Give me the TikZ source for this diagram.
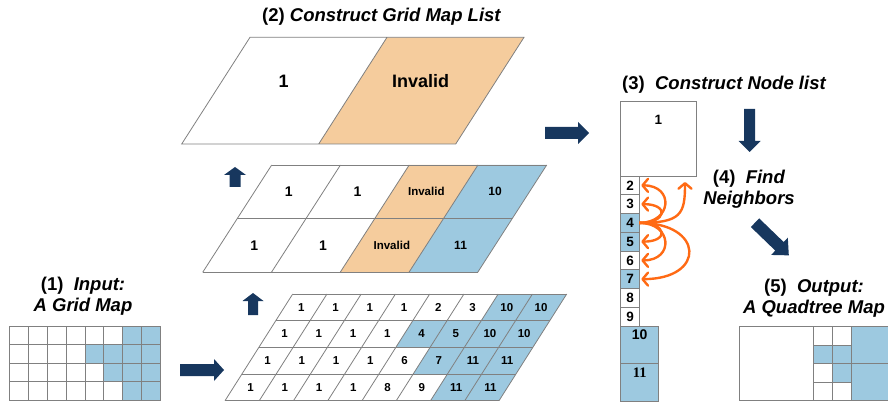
\documentclass[tikz,border=0pt]{standalone}
\usepackage{fontspec}
\setmainfont{Liberation Sans}
\newfontfamily\numserif{Liberation Serif}
\usetikzlibrary{arrows.meta}

\definecolor{cellblue}{RGB}{157,201,224}
\definecolor{cellorange}{RGB}{245,204,157}
\definecolor{linegray}{RGB}{128,128,128}
\definecolor{navyarrow}{RGB}{23,55,94}
\definecolor{linkorange}{RGB}{255,106,20}

% block arrow: #1 tail, #2 angle, #3 length, #4 shaft half width, #5 head half width, #6 head length
\newcommand\blockarrow[6]{%
  \fill[navyarrow, shift={#1}, rotate=#2]
    (0,-#4) -- ({#3-#6},-#4) -- ({#3-#6},-#5) -- (#3,0)
    -- ({#3-#6},#5) -- ({#3-#6},#4) -- (0,#4) -- cycle;}

\tikzset{
  gridline/.style={draw=linegray, line width=0.8pt},
  title/.style={font=\fontsize{18.5}{21}\selectfont\bfseries, align=center, inner sep=0pt},
  smallnum/.style={font=\fontsize{11.5}{13}\selectfont\bfseries, inner sep=0pt},
  midnum/.style={font=\fontsize{14}{16}\selectfont\bfseries, inner sep=0pt},
  midlab/.style={font=\fontsize{12}{14}\selectfont\bfseries, inner sep=0pt},
  bignum/.style={font=\fontsize{18}{20}\selectfont\bfseries, inner sep=0pt},
  listnum/.style={font=\fontsize{13.5}{15}\selectfont\bfseries, inner sep=0pt},
  listbox/.style={draw=linegray, line width=0.9pt, inner sep=0pt, outer sep=0pt, listnum},
  link/.style={draw=linkorange, line width=2.4pt, -{Straight Barb[length=5.5pt,width=13pt,round]}},
}

\begin{document}
\begin{tikzpicture}[x=1pt,y=-1pt]
\useasboundingbox (0,0) rectangle (888,403);

% step titles
\node[title] (t1) at (83,296.7) {(1)\ \ \textit{Input:}\\\textit{A Grid Map}};
\node[title] (t2) at (381.7,16.7) {(2) \textit{Construct Grid Map List}};
\node[title, anchor=west] (t3) at (622,85) {(3)\ \ \textit{Construct Node list}};
\node[title] (t4) at (749,189) {(4)\ \ \textit{Find}\\\textit{Neighbors}};
\node[title] (t5) at (814,298) {(5)\ \ \textit{Output:}\\\textit{A Quadtree Map}};

% input grid map, 8 x 4 cells
\begin{scope}[shift={(9.3pt,-326pt)}, x={(18.9pt,0pt)}, y={(0pt,-18.6pt)}]
  \foreach \c/\r in {6/0,7/0,4/1,5/1,6/1,7/1,5/2,6/2,7/2,6/3,7/3}
    \fill[cellblue] (\c,\r) rectangle ++(1,1);
  \foreach \r in {0,...,4} \draw[gridline] (0,\r) -- (8,\r);
  \foreach \c in {0,...,8} \draw[gridline] (\c,0) -- (\c,4);
\end{scope}

% level 0 of the grid map list (8 x 4)
\begin{scope}[shift={(292.7pt,-294pt)}, x={(34.25pt,0pt)}, y={(-16.92pt,-26.67pt)}]
  \fill[white] (0,0) -- (8,0) -- (8,4) -- (0,4) -- cycle;
  \foreach \c/\r in {6/0,7/0,4/1,5/1,6/1,7/1,5/2,6/2,7/2,6/3,7/3}
    \fill[cellblue] (\c,\r) -- ++(1,0) -- ++(0,1) -- ++(-1,0) -- cycle;
  \foreach \r in {0,...,4} \draw[gridline] (0,\r) -- (8,\r);
  \foreach \c in {0,...,8} \draw[gridline] (\c,0) -- (\c,4);
  \foreach \lab [count=\i from 0] in {1,1,1,1,2,3,10,10,
                                      1,1,1,1,4,5,10,10,
                                      1,1,1,1,6,7,11,11,
                                      1,1,1,1,8,9,11,11}{
    \pgfmathtruncatemacro\cc{mod(\i,8)}
    \pgfmathtruncatemacro\rr{floor(\i/8)}
    \node[smallnum] (g-\rr-\cc) at (\cc+0.5,\rr+0.5) {\lab};
  }
\end{scope}

% level 1 (4 x 2)
\begin{scope}[shift={(271.7pt,-165pt)}, x={(68.75pt,0pt)}, y={(-34.5pt,-53.65pt)}]
  \fill[white] (0,0) -- (2,0) -- (2,2) -- (0,2) -- cycle;
  \fill[cellorange] (2,0) -- (3,0) -- (3,2) -- (2,2) -- cycle;
  \fill[cellblue] (3,0) -- (4,0) -- (4,2) -- (3,2) -- cycle;
  \foreach \r in {0,1,2} \draw[gridline] (0,\r) -- (4,\r);
  \foreach \c in {0,...,4} \draw[gridline] (\c,0) -- (\c,2);
  \node[midnum] (h-0-0) at (0.5,0.5) {1};
  \node[midnum] (h-0-1) at (1.5,0.5) {1};
  \node[midlab, font=\fontsize{11.5}{13}\selectfont\bfseries] (h-0-2) at (2.5,0.5) {Invalid};
  \node[midlab] (h-0-3) at (3.5,0.5) {10};
  \node[midnum] (h-1-0) at (0.5,1.5) {1};
  \node[midnum] (h-1-1) at (1.5,1.5) {1};
  \node[midlab, font=\fontsize{11.5}{13}\selectfont\bfseries] (h-1-2) at (2.5,1.5) {Invalid};
  \node[midlab] (h-1-3) at (3.5,1.5) {11};
\end{scope}

% level 2 (2 x 1)
\begin{scope}[shift={(250pt,-37.3pt)}, x={(137pt,0pt)}, y={(-68.3pt,-106.7pt)}]
  \fill[white] (0,0) -- (1,0) -- (1,1) -- (0,1) -- cycle;
  \fill[cellorange] (1,0) -- (2,0) -- (2,1) -- (1,1) -- cycle;
  \draw[gridline] (0,0) -- (2,0) -- (2,1) -- (0,1) -- cycle (1,0) -- (1,1);
  \node[bignum] (k-0) at (0.45,0.41) {1};
  \node[bignum] (k-1) at (1.45,0.41) {Invalid};
\end{scope}

% navy step arrows
\blockarrow{(180,370)}{0}{44}{6}{11}{10}
\blockarrow{(253,315)}{90}{22}{5}{10.5}{8}
\blockarrow{(235,187)}{90}{20}{5.5}{11}{8}
\blockarrow{(545,133)}{0}{44}{6}{11}{11}
\blockarrow{(749.5,109)}{-90}{43}{5.5}{11}{11}
\blockarrow{(755,222.7)}{-44}{47}{6}{12}{13}

% node list
\node[listbox, fill=white, minimum width=75.3pt, minimum height=74.3pt,
      label={[listnum, anchor=center, yshift=-18.5pt]north:1}] (n1) at (658.35,138.85) {};
\foreach \k/\col [count=\j from 0] in {2/white,3/white,4/cellblue,5/cellblue,6/white,7/cellblue,8/white,9/white}
  \node[listbox, fill=\col, minimum width=18.6pt, minimum height=18.75pt] (n\k) at (630,185.375+18.75*\j) {\k};
\node[listbox, fill=cellblue, minimum width=38pt, minimum height=37.85pt,
      label={[listnum, font=\fontsize{14}{15}\selectfont\bfseries, anchor=center, yshift=-9pt]north:10}] (n10) at (639.7,344.9) {};
\node[listbox, fill=cellblue, minimum width=38pt, minimum height=37.85pt,
      label={[listnum, font=\numserif\fontsize{14.5}{15}\selectfont\bfseries, anchor=center, yshift=-9pt]north:11}] (n11) at (639.7,382.8) {};

% neighbour links of node 4
\coordinate (upTip) at (685,182);
\draw[link] (n4.east) .. controls +(33,0) and +(33,0) .. ([xshift=2pt]n2.east);
\draw[link] (n4.east) .. controls +(28,0) and +(28,0) .. ([xshift=2pt]n3.east);
\draw[link] (n4.east) .. controls +(28,0) and +(28,0) .. ([xshift=2pt]n5.east);
\draw[link] (n4.east) .. controls +(33,0) and +(33,0) .. ([xshift=2pt]n6.east);
\draw[link] (n4.east) .. controls +(65,0) and +(65,0) .. ([xshift=2pt]n7.east);
\draw[link] (n4.east) .. controls +(42,0) and +(0,32) .. (upTip);

% output quadtree map
\draw[gridline, fill=white] (739,326.7) rectangle (813.3,400.7);
\foreach \c/\r/\col in {0/0/white,1/0/white,0/1/cellblue,1/1/cellblue,0/2/white,1/2/cellblue,0/3/white,1/3/white}
  \draw[gridline, fill=\col] (813.3+19.2*\c,326.7+18.5*\r) rectangle ++(19.2,18.5);
\draw[gridline, fill=cellblue] (851.7,326.7) rectangle (889,363.7);
\draw[gridline, fill=cellblue] (851.7,363.7) rectangle (889,400.7);
\end{tikzpicture}
\end{document}
